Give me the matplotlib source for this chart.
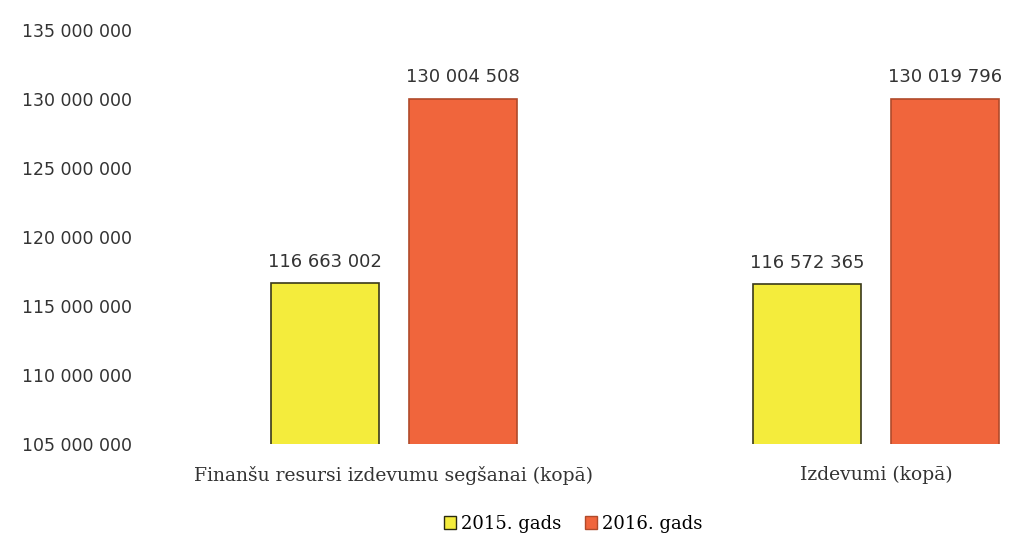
import numpy as np
import matplotlib.pyplot as plt
from matplotlib.patches import Patch

# Data
categories = ['Finanšu resursi izdevumu segšanai (kopā)', 'Izdevumi (kopā)']
series_names = ['2015. gads', '2016. gads']
values_2015 = [116663002, 116572365]
values_2016 = [130004508, 130019796]
y_ticks = [105000000, 110000000, 115000000, 120000000, 125000000, 130000000, 135000000]

colors = ['#f4ec3c', '#f0653c']
edges = ['#3a3a1a', '#b04a2a']


def fmt(v):
    return f'{v:,}'.replace(',', ' ')


fig = plt.figure(figsize=(10.11, 5.36), dpi=100)
ax = fig.add_axes([153 / 1011, 1 - 444 / 536, (1011 - 153) / 1011, (444 - 30) / 536])

x = np.arange(len(categories))
w = 0.224
off = 0.143
for vals, c, ec, sh in [(values_2015, colors[0], edges[0], -off), (values_2016, colors[1], edges[1], off)]:
    bars = ax.bar(x + sh, vals, width=w, color=c, edgecolor=ec, linewidth=1.2)
    for b, v in zip(bars, vals):
        ax.annotate(fmt(v), (b.get_x() + b.get_width() / 2, v), xytext=(0, 9),
                    textcoords='offset points', ha='center', va='bottom',
                    fontsize=13, color='#333333')

ax.set_ylim(105000000, 135000000)
ax.set_xlim(-0.5, 1 + (1011 - 876) / 482)
ax.set_yticks(y_ticks)
ax.set_yticklabels([fmt(t) for t in y_ticks], fontsize=12.5, color='#333333')
ax.set_xticks(x)
ax.set_xticklabels(categories, family='DejaVu Serif', fontsize=13.5, color='#333333')
ax.tick_params(axis='both', length=0)
ax.tick_params(axis='y', pad=15)
ax.tick_params(axis='x', pad=16)
for s in ax.spines.values():
    s.set_visible(False)

handles = [Patch(facecolor=colors[0], edgecolor='#2a2a10', label=series_names[0]),
           Patch(facecolor=colors[1], edgecolor='#b04a2a', label=series_names[1])]
fig.legend(handles=handles, loc='center', bbox_to_anchor=(573 / 1011, 1 - 524 / 536), ncol=2,
           frameon=False, prop={'family': 'DejaVu Serif', 'size': 13},
           handlelength=0.7, handleheight=0.7, handletextpad=0.25, columnspacing=1.3)

fig.savefig('out.png', dpi=100)
